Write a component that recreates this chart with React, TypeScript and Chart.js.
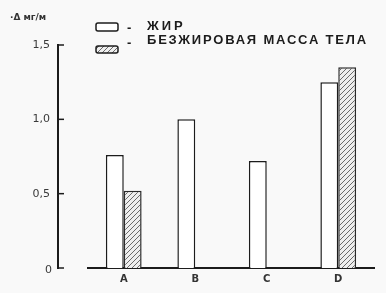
import React, { useEffect, useRef } from 'react';
import { Chart, registerables } from 'chart.js';

Chart.register(...registerables);

const categories = ['A', 'B', 'C', 'D'];
const fatValues = [0.76, 1.0, 0.72, 1.25];
const leanValues: (number | null)[] = [0.52, null, null, 1.35];
const yTickValues = [0, 0.5, 1.0, 1.5];
const yTickLabels = ['0', '0,5', '1,0', '1,5'];
const legendLabels = ['ЖИР', 'БЕЗЖИРОВАЯ МАССА ТЕЛА'];
const yTitle = '·Δ мг/м';

function makeHatch(): CanvasPattern | string {
  const c = document.createElement('canvas');
  c.width = 5;
  c.height = 5;
  const g = c.getContext('2d');
  if (!g) return '#ccc';
  g.fillStyle = '#eeeeee';
  g.fillRect(0, 0, 5, 5);
  g.strokeStyle = '#6a6a6a';
  g.lineWidth = 1;
  g.beginPath();
  g.moveTo(-1, 6);
  g.lineTo(6, -1);
  g.moveTo(-1, 1);
  g.lineTo(1, -1);
  g.moveTo(4, 6);
  g.lineTo(6, 4);
  g.stroke();
  const p = g.createPattern(c, 'repeat');
  return p || '#ccc';
}

export default function App() {
  const ref = useRef<HTMLCanvasElement | null>(null);

  useEffect(() => {
    document.body.style.margin = '0';
    const canvas = ref.current;
    if (!canvas) return;
    const hatch = makeHatch();

    const bgPlugin = {
      id: 'bg',
      beforeDraw(chart: any) {
        const ctx = chart.ctx;
        ctx.save();
        ctx.fillStyle = '#f9f9f9';
        ctx.fillRect(0, 0, chart.width, chart.height);
        ctx.restore();
      },
    };

    const axisPlugin = {
      id: 'yaxisCustom',
      afterDraw(chart: any) {
        const ctx = chart.ctx;
        const ys = chart.scales.y;
        const axisX = 58;
        ctx.save();
        ctx.strokeStyle = '#1c1c1c';
        ctx.lineWidth = 2;
        const top = ys.getPixelForValue(yTickValues[yTickValues.length - 1]);
        const bottom = ys.getPixelForValue(yTickValues[0]);
        ctx.beginPath();
        ctx.moveTo(axisX, top - 1);
        ctx.lineTo(axisX, bottom + 1);
        ctx.stroke();
        ctx.lineWidth = 1.5;
        ctx.fillStyle = '#3a3a3a';
        ctx.font = '11px "DejaVu Sans"';
        ctx.textAlign = 'right';
        ctx.textBaseline = 'middle';
        yTickValues.forEach((v, i) => {
          const py = ys.getPixelForValue(v);
          ctx.beginPath();
          ctx.moveTo(axisX, py);
          ctx.lineTo(axisX + 6, py);
          ctx.stroke();
          ctx.fillText(yTickLabels[i], i === 0 ? 52 : 50, py + (i === 0 ? 2 : 0));
        });
        ctx.textAlign = 'left';
        ctx.font = 'bold 9px "DejaVu Sans"';
        ctx.fillStyle = '#333';
        ctx.fillText(yTitle, 10, 18);

        // legend
        ctx.lineWidth = 1.5;
        ctx.strokeStyle = '#1c1c1c';
        ctx.fillStyle = '#ffffff';
        ctx.beginPath();
        (ctx as any).roundRect(96, 23, 22, 8, 2);
        ctx.fill();
        ctx.stroke();
        ctx.fillStyle = hatch as any;
        ctx.beginPath();
        (ctx as any).roundRect(96, 46, 22, 7, 2);
        ctx.fill();
        ctx.stroke();

        ctx.fillStyle = '#1c1c1c';
        ctx.font = 'bold 13px "Liberation Sans"';
        ctx.textBaseline = 'middle';
        ctx.fillText('-', 127, 28);
        ctx.fillText('-', 127, 43);
        (ctx as any).letterSpacing = '3px';
        ctx.fillText(legendLabels[0], 147, 26.5);
        (ctx as any).letterSpacing = '1.8px';
        ctx.fillText(legendLabels[1], 147, 40.5);
        (ctx as any).letterSpacing = '0px';
        ctx.restore();
      },
    };

    const chart = new Chart(canvas, {
      type: 'bar',
      data: {
        labels: categories,
        datasets: [
          {
            label: legendLabels[0],
            data: fatValues,
            backgroundColor: '#ffffff',
            borderColor: '#1c1c1c',
            borderWidth: 1.5,
          },
          {
            label: legendLabels[1],
            data: leanValues,
            backgroundColor: hatch as any,
            borderColor: '#2a2a2a',
            borderWidth: 1.5,
          },
        ],
      },
      options: {
        animation: false,
        responsive: false,
        devicePixelRatio: 1,
        layout: { padding: { left: 88, right: 12, top: 45, bottom: 3 } },
        plugins: {
          legend: { display: false },
          tooltip: { enabled: false },
        },
        datasets: {
          bar: { categoryPercentage: 0.5, barPercentage: 1.0 },
        },
        scales: {
          x: {
            grid: { display: false, drawTicks: false },
            border: { display: true, color: '#1c1c1c', width: 2 },
            ticks: {
              color: '#333',
              padding: 5,
              font: { family: '"DejaVu Sans"', size: 10, weight: 'bold' },
            },
          },
          y: {
            display: false,
            min: 0,
            max: 1.5,
          },
        },
      },
      plugins: [bgPlugin, axisPlugin],
    });

    return () => chart.destroy();
  }, []);

  return (
    <div style={{ width: 386, height: 293 }}>
      <canvas ref={ref} width={386} height={293} />
    </div>
  );
}
